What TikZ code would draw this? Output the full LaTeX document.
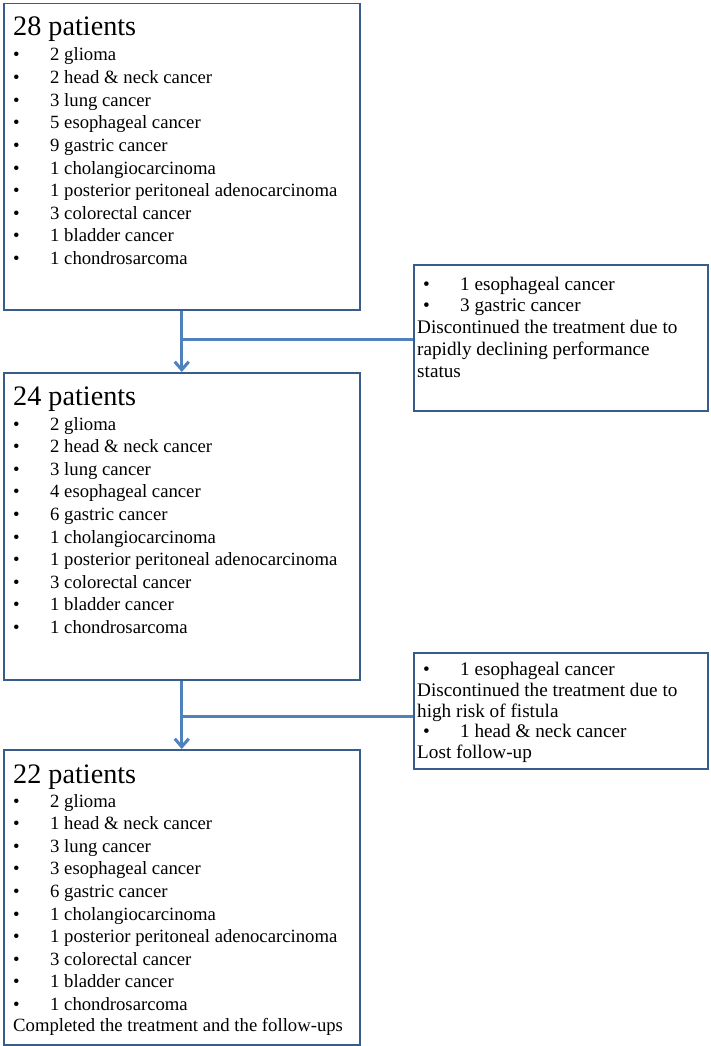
\documentclass[tikz,border=0pt]{standalone}
\usepackage{fontspec}
\setmainfont{Liberation Serif}
\usetikzlibrary{arrows.meta}
\definecolor{boxline}{RGB}{56,93,138}
\definecolor{arrowline}{RGB}{79,129,189}
\begin{document}
\begin{tikzpicture}[x=1pt,y=-1pt,
  box/.style={draw=boxline, line width=1.5pt, inner sep=0pt, anchor=north west},
  title/.style={anchor=base west, inner sep=0pt, font=\fontsize{28.2}{30}\selectfont},
  item/.style={anchor=base west, inner sep=0pt, font=\fontsize{18.7}{22}\selectfont},
  sideitem/.style={anchor=base west, inner sep=0pt, font=\fontsize{19.2}{22}\selectfont},
  flow/.style={draw=arrowline, line width=3pt},
  flowarrow/.style={flow, -{Straight Barb[length=8pt,width=14pt]}}
]
\useasboundingbox (0,0) rectangle (711,1046);

% main boxes
\node[box, minimum width=356pt, minimum height=306pt] (box1) at (3,3) {};
\node[box, minimum width=356pt, minimum height=307pt] (box2) at (3,372) {};
\node[box, minimum width=356pt, minimum height=295pt] (box3) at (3,749) {};
% side boxes
\node[box, minimum width=294pt, minimum height=146pt] (side1) at (413,264) {};
\node[box, minimum width=294pt, minimum height=116pt] (side2) at (413,652) {};

% box 1 text
\node[title] (t1) at (13,36) {28 patients};
\foreach \t [count=\i from 0] in {2 glioma, 2 head \& neck cancer, 3 lung cancer, 5 esophageal cancer, 9 gastric cancer, 1 cholangiocarcinoma, 1 posterior peritoneal adenocarcinoma, 3 colorectal cancer, 1 bladder cancer, 1 chondrosarcoma}
  \node[item] (a\i) at (13,61+22.6*\i) {\makebox[37pt][l]{•}\t};

% box 2 text
\node[title] (t2) at (13,405) {24 patients};
\foreach \t [count=\i from 0] in {2 glioma, 2 head \& neck cancer, 3 lung cancer, 4 esophageal cancer, 6 gastric cancer, 1 cholangiocarcinoma, 1 posterior peritoneal adenocarcinoma, 3 colorectal cancer, 1 bladder cancer, 1 chondrosarcoma}
  \node[item] (b\i) at (13,430+22.6*\i) {\makebox[37pt][l]{•}\t};

% box 3 text
\node[title] (t3) at (13,783) {22 patients};
\foreach \t [count=\i from 0] in {2 glioma, 1 head \& neck cancer, 3 lung cancer, 3 esophageal cancer, 6 gastric cancer, 1 cholangiocarcinoma, 1 posterior peritoneal adenocarcinoma, 3 colorectal cancer, 1 bladder cancer, 1 chondrosarcoma}
  \node[item] (c\i) at (13,807+22.6*\i) {\makebox[37pt][l]{•}\t};
\node[item] (cend) at (13,1031) {Completed the treatment and the follow-ups};

% side box 1 text
\node[sideitem] (s1a) at (417,290) {\hspace{6pt}\makebox[37pt][l]{•}1 esophageal cancer};
\node[sideitem] (s1b) at (417,311) {\hspace{6pt}\makebox[37pt][l]{•}3 gastric cancer};
\node[sideitem] (s1c) at (417,333) {Discontinued the treatment due to};
\node[sideitem] (s1d) at (417,355) {rapidly declining performance};
\node[sideitem] (s1e) at (417,377) {status};

% side box 2 text
\node[sideitem] (s2a) at (417,675) {\hspace{6pt}\makebox[37pt][l]{•}1 esophageal cancer};
\node[sideitem] (s2b) at (417,696) {Discontinued the treatment due to};
\node[sideitem] (s2c) at (417,717) {high risk of fistula};
\node[sideitem] (s2d) at (417,737) {\hspace{6pt}\makebox[37pt][l]{•}1 head \& neck cancer};
\node[sideitem] (s2e) at (417,758) {Lost follow-up};

% connectors
\coordinate (m1) at (181,339);
\coordinate (m2) at (181,716);
\draw[flowarrow] (box1.south) -- (box2.north);
\draw[flow] (side1.west |- m1) -- (m1);
\draw[flowarrow] (box2.south) -- (box3.north);
\draw[flow] (side2.west |- m2) -- (m2);
\end{tikzpicture}
\end{document}
